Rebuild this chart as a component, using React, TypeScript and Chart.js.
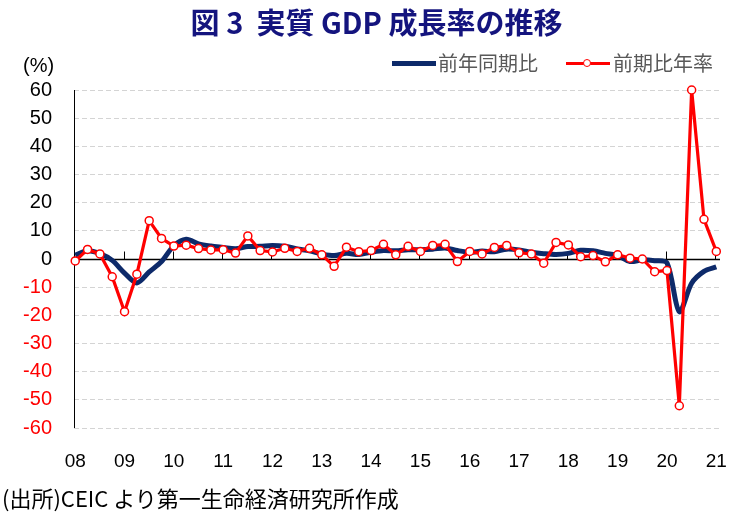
import React, { useEffect, useRef } from "react";
import { Chart, registerables } from "chart.js";

Chart.register(...registerables);

// Year labels (Q1 of each year)
const years = ["08", "09", "10", "11", "12", "13", "14", "15", "16", "17", "18", "19", "20", "21"];

// 前年同期比 (YoY, %), quarterly 2008Q1 - 2021Q1
const yoy = [
  1.4, 2.9, 1.9, -0.5,
  -5.0, -8.5, -4.6, -0.9,
  4.7, 7.0, 5.4, 4.6,
  4.1, 3.6, 4.4, 4.5,
  4.8, 4.5, 3.6, 2.9,
  1.8, 1.2, 2.0, 1.6,
  2.4, 3.0, 2.9, 3.3,
  3.3, 3.5, 3.9, 3.0,
  2.4, 2.8, 2.6, 3.5,
  3.2, 2.4, 1.9, 1.6,
  2.0, 3.1, 2.9, 2.0,
  1.2, -0.9, -0.3, -0.6,
  -1.4, -18.7, -8.6, -4.4,
  -2.8,
];

// 前期比年率 (QoQ annualized, %), quarterly 2008Q1 - 2021Q1
const qoqAnnualized = [
  -0.7, 3.4, 1.8, -6.3,
  -18.7, -5.4, 13.6, 7.3,
  4.6, 4.9, 3.7, 3.2,
  3.3, 2.1, 8.2, 3.0,
  2.5, 3.8, 2.7, 3.8,
  1.5, -2.6, 4.2, 2.6,
  3.0, 5.2, 1.5, 4.5,
  2.7, 4.8, 5.2, -0.9,
  2.7, 1.8, 4.1, 4.8,
  2.2, 1.8, -1.5, 5.9,
  5.0, 0.8, 1.2, -1.0,
  1.5, 0.3, 0.0, -4.5,
  -4.1, -52.1, 60.0, 14.1,
  2.7,
];

const NAVY = "#0d2a6a";
const RED = "#ff0000";
const NUM_FONT = "'Liberation Sans', Arial, sans-serif";
const JP_FONT = "'Noto Sans CJK JP', 'Noto Sans', sans-serif";

export default function App() {
  const ref = useRef<HTMLCanvasElement | null>(null);

  useEffect(() => {
    if (!ref.current) return;

    const decor = {
      id: "decor",
      beforeDatasetsDraw(chart: any) {
        const { ctx, chartArea, scales } = chart;
        const xs = scales.x;
        const ys = scales.y;
        const y0 = Math.round(ys.getPixelForValue(0)) + 0.5;
        ctx.save();
        ctx.strokeStyle = "#000";
        // zero line
        ctx.lineWidth = 1.5;
        ctx.beginPath();
        ctx.moveTo(chartArea.left, y0);
        ctx.lineTo(chartArea.right, y0);
        ctx.stroke();
        // left axis
        ctx.lineWidth = 1;
        const lx = Math.round(chartArea.left) + 0.5;
        ctx.beginPath();
        ctx.moveTo(lx, chartArea.top);
        ctx.lineTo(lx, chartArea.bottom);
        ctx.stroke();
        // year tick marks on zero line
        years.forEach((_, k) => {
          const px = Math.round(xs.getPixelForValue(k * 4)) - 0.5;
          ctx.beginPath();
          ctx.moveTo(px, y0);
          ctx.lineTo(px, y0 - 8);
          ctx.stroke();
        });
        ctx.restore();
      },
    };

    const chart = new Chart(ref.current, {
      type: "line",
      data: {
        datasets: [
          {
            label: "前期比年率",
            data: qoqAnnualized.map((v, i) => ({ x: i, y: v })),
            borderColor: RED,
            borderWidth: 3.2,
            pointRadius: 4,
            pointBackgroundColor: "#ffffff",
            pointBorderColor: RED,
            pointBorderWidth: 1.5,
            tension: 0,
            clip: false,
            order: 0,
          },
          {
            label: "前年同期比",
            data: yoy.map((v, i) => ({ x: i, y: v })),
            borderColor: NAVY,
            borderWidth: 5,
            pointRadius: 0,
            tension: 0.3,
            clip: false,
            order: 1,
          },
        ],
      },
      options: {
        responsive: false,
        animation: false,
        devicePixelRatio: 1,
        layout: { padding: { top: 90, right: 33, left: 0, bottom: 0 } },
        plugins: {
          legend: { display: false },
          title: { display: false },
          tooltip: { enabled: false },
        },
        scales: {
          x: {
            type: "linear",
            min: -0.1,
            max: 52.3,
            afterBuildTicks: (s: any) => {
              s.ticks = years.map((_, k) => ({ value: k * 4 }));
            },
            afterFit: (s: any) => {
              s.height = 97;
            },
            ticks: {
              autoSkip: false,
              maxRotation: 0,
              padding: 22,
              color: "#000",
              font: { size: 19, family: NUM_FONT },
              callback: (v: any) => years[Math.round(Number(v) / 4)],
            },
            grid: { display: false, drawTicks: false },
            border: { display: false },
          },
          y: {
            min: -60,
            max: 60,
            afterFit: (s: any) => {
              s.width = 74;
            },
            ticks: {
              stepSize: 10,
              padding: 22,
              font: { size: 20, family: NUM_FONT },
              color: (c: any) => (c.tick && c.tick.value < 0 ? RED : "#000"),
            },
            grid: {
              drawTicks: false,
              lineWidth: 1,
              color: (c: any) => (c.tick && c.tick.value === 0 ? "rgba(0,0,0,0)" : "#d4d4d4"),
            },
            border: { display: false, dash: [5, 3] },
          },
        },
      },
      plugins: [decor],
    });

    return () => chart.destroy();
  }, []);

  return (
    <div style={{ position: "absolute", left: 0, top: 0, width: 753, height: 525, background: "#fff", overflow: "hidden" }}>
      <canvas ref={ref} width={753} height={525} style={{ position: "absolute", left: 0, top: 0, width: 753, height: 525 }} />
      <div
        style={{
          position: "absolute",
          left: 0,
          top: 1,
          width: 753,
          textAlign: "center",
          fontFamily: JP_FONT,
          fontWeight: 700,
          fontSize: 29,
          lineHeight: "40px",
          color: "#14147e",
          whiteSpace: "pre",
        }}
      >
        {"図 3  実質 GDP 成長率の推移"}
      </div>
      <div style={{ position: "absolute", left: 23, top: 52, fontFamily: NUM_FONT, fontSize: 20, lineHeight: "26px", color: "#000" }}>
        (%)
      </div>
      {/* legend */}
      <div style={{ position: "absolute", left: 392, top: 61, width: 44, height: 5, background: NAVY }} />
      <div style={{ position: "absolute", left: 438, top: 49, fontFamily: JP_FONT, fontSize: 20, lineHeight: "28px", color: "#595959", whiteSpace: "nowrap" }}>
        前年同期比
      </div>
      <div style={{ position: "absolute", left: 566, top: 62, width: 44, height: 3, background: RED }} />
      <div
        style={{
          position: "absolute",
          left: 583,
          top: 59,
          width: 6,
          height: 6,
          borderRadius: "50%",
          background: "#fff",
          border: `1.5px solid ${RED}`,
        }}
      />
      <div style={{ position: "absolute", left: 613, top: 49, fontFamily: JP_FONT, fontSize: 20, lineHeight: "28px", color: "#595959", whiteSpace: "nowrap" }}>
        前期比年率
      </div>
      <div style={{ position: "absolute", left: 2, top: 483, fontFamily: JP_FONT, fontSize: 22, lineHeight: "28px", color: "#000", whiteSpace: "nowrap" }}>
        (出所)CEIC より第一生命経済研究所作成
      </div>
    </div>
  );
}
